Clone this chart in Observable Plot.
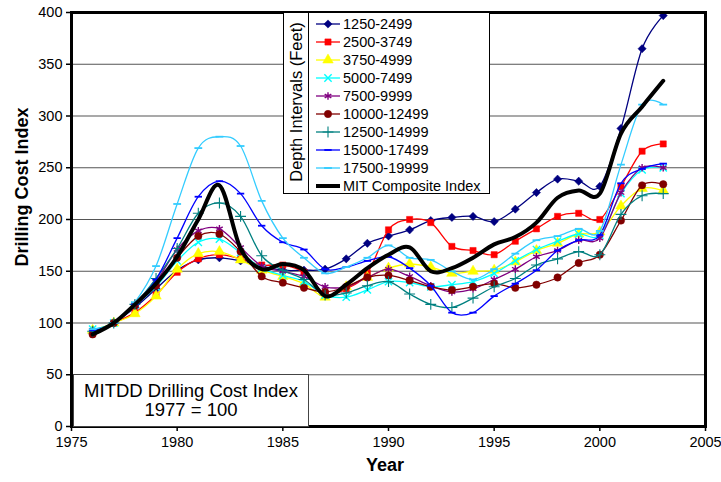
<!DOCTYPE html>
<html><head><meta charset="utf-8">
<script src="https://cdn.jsdelivr.net/npm/d3@7"></script>
<script src="https://cdn.jsdelivr.net/npm/@observablehq/plot@0.6"></script>
<style>
body{margin:0;background:#fff;font-family:"Liberation Sans",Arial,sans-serif;}
#wrap{position:relative;width:721px;height:482px;overflow:hidden;background:#fff;}
#wrap svg{position:absolute;left:0;top:0;}
.lab{position:absolute;color:#000;white-space:nowrap;}
#legend{position:absolute;left:283px;top:12px;width:205px;height:180px;background:#fff;border:1px solid #000;}
#legend .div{position:absolute;left:24px;top:0;width:0;height:100%;border-left:1px solid #000;}
#legend .row{position:absolute;left:0;height:18px;line-height:18px;font-size:14.5px;}
#legend .row svg{position:absolute;left:32px;top:0;}
#legend .row span{position:absolute;left:59px;top:0;}
#legtitle{position:absolute;width:180px;left:-78px;top:79px;height:20px;line-height:20px;text-align:center;font-size:16.5px;transform:rotate(-90deg);transform-origin:center;}
#note{position:absolute;left:73px;top:374px;width:234px;height:51px;background:#fff;border:1px solid #444;text-align:center;font-size:18.5px;line-height:19px;}
</style></head><body><div id="wrap"></div>
<script>
const years = [1976,1977,1978,1979,1980,1981,1982,1983,1984,1985,1986,1987,1988,1989,1990,1991,1992,1993,1994,1995,1996,1997,1998,1999,2000,2001,2002,2003];
const seriesNames = ["1250-2499","2500-3749","3750-4999","5000-7499","7500-9999","10000-12499","12500-14999","15000-17499","17500-19999"];
const d1250  = [90,100,115,133,151,161,163,160,155,151,151,152,162,177,184,190,199,202,203,198,210,226,239,237,232,288,365,397];
const d2500  = [91,100,110,127,149,162,166,162,156,156,149,128,133,148,190,200,197,174,170,166,179,191,203,206,200,232,266,273];
const d3750  = [93,100,109,126,152,167,169,161,151,145,138,125,135,144,153,157,154,148,150,151,159,170,177,186,188,213,230,228];
const d5000  = [94,100,117,135,160,178,181,168,153,146,140,127,125,132,140,139,135,137,140,148,160,171,179,186,185,225,248,250];
const d7500  = [93,100,118,140,171,189,191,173,155,150,145,135,135,144,152,145,136,130,133,142,152,164,170,180,182,226,250,250];
const d10000 = [89,100,117,136,163,184,186,169,145,139,134,130,135,144,146,141,135,132,135,138,134,137,144,158,166,199,233,234];
const d12500 = [92,100,118,143,172,206,216,203,165,151,142,127,129,136,140,128,118,115,124,135,143,156,162,169,166,205,223,225];
const d15000 = [93,100,118,142,182,222,237,225,194,178,171,152,154,160,164,153,136,110,110,126,138,151,170,180,185,235,249,254];
const d17500 = [94,100,120,155,215,269,280,271,218,182,163,148,154,163,175,163,161,150,142,152,167,180,184,191,189,253,311,311];
const composite = [89,100,118,138,164,200,233,172,152,157,151,126,137,153,166,173,150,153,163,176,183,197,221,228,225,283,309,334];
const compositeName = "MIT Composite Index";
const xTicks = [1975,1980,1985,1990,1995,2000,2005];
const yTicks = [0,50,100,150,200,250,300,350,400];
const colors = ["#000080","#ff0000","#ffff00","#00ffff","#800080","#800000","#008080","#0000ff","#33ccff"];

const dash = {draw(ctx, size){const r = Math.sqrt(size/Math.PI)*1.15; ctx.moveTo(-r,0); ctx.lineTo(r,0);}};
const symbols = [d3.symbolDiamond2, d3.symbolSquare, d3.symbolTriangle, d3.symbolTimes, d3.symbolAsterisk, d3.symbolCircle, d3.symbolPlus, dash, dash];
const filled = [true,true,true,false,false,true,false,false,false];
const sizes = [3.7,3.5,3.9,3.4,3.6,3.7,3.6,3.2,3.4];
const strokeW = [0.5,0.5,0.5,1.4,1.4,0.5,1.1,1.8,1.8];

const allValues = [d1250,d2500,d3750,d5000,d7500,d10000,d12500,d15000,d17500];
const tables = allValues.map((vals, k) => years.map((yr, i) => ({year: yr, value: vals[i], series: seriesNames[k]})));
const compTable = years.map((yr, i) => ({year: yr, value: composite[i]}));

const marks = [
  Plot.gridY(yTicks, {stroke: "#555", strokeOpacity: 1, strokeWidth: 1.2}),
];
tables.forEach((t, k) => {
  marks.push(Plot.line(t, {x: "year", y: "value", stroke: colors[k], strokeWidth: 1.3, curve: "cardinal"}));
  marks.push(Plot.dot(t, {x: "year", y: "value", symbol: symbols[k], r: sizes[k],
    fill: filled[k] ? colors[k] : "none", stroke: colors[k], strokeWidth: strokeW[k]}));
});
marks.push(Plot.line(compTable, {x: "year", y: "value", stroke: "#000", strokeWidth: 4, curve: "cardinal"}));
marks.push(Plot.frame({stroke: "#000", strokeWidth: 3}));
marks.push(Plot.axisY(yTicks, {tickSize: 5, tickPadding: 4, fontSize: 14.5, label: null, strokeWidth: 1.5}));
marks.push(Plot.axisX(xTicks, {tickSize: 5, tickPadding: 5, fontSize: 14.5, label: null, tickFormat: d => String(d), strokeWidth: 1.5}));

const chart = Plot.plot({
  width: 721, height: 482,
  marginLeft: 71, marginRight: 16, marginTop: 12, marginBottom: 56,
  x: {domain: [1975, 2005]},
  y: {domain: [0, 400]},
  style: {fontFamily: '"Liberation Sans", Arial, sans-serif', fontSize: "15px", background: "white", color: "black", overflow: "visible"},
  marks
});
const wrap = document.getElementById("wrap");
wrap.appendChild(chart);

// axis titles
const ylab = document.createElement("div");
ylab.className = "lab";
ylab.textContent = "Drilling Cost Index";
Object.assign(ylab.style, {left: "-78px", top: "176px", width: "200px", height: "22px", lineHeight: "22px", textAlign: "center", fontWeight: "bold", fontSize: "18px", transform: "rotate(-90deg)", transformOrigin: "center"});
wrap.appendChild(ylab);
const xlab = document.createElement("div");
xlab.className = "lab";
xlab.textContent = "Year";
Object.assign(xlab.style, {left: "335px", top: "455px", width: "100px", textAlign: "center", fontWeight: "bold", fontSize: "18px"});
wrap.appendChild(xlab);

// note box
const note = document.createElement("div");
note.id = "note";
note.innerHTML = '<div style="margin-top:6px">MITDD Drilling Cost Index</div><div>1977 = 100</div>';
wrap.appendChild(note);

// legend
const legend = document.createElement("div");
legend.id = "legend";
legend.innerHTML = '<div class="div"></div><div id="legtitle">Depth Intervals (Feet)</div>';
const names = seriesNames.concat([compositeName]);
names.forEach((n, i) => {
  const row = document.createElement("div");
  row.className = "row";
  row.style.top = (1.7 + 18 * i) + "px";
  row.style.width = "205px";
  let svg;
  if (i < 9) {
    const path = d3.symbol().type(symbols[i]).size(Math.PI * sizes[i] * sizes[i])();
    svg = `<svg width="24" height="18"><line x1="0" x2="24" y1="9" y2="9" stroke="${colors[i]}" stroke-width="1.3"/><path d="${path}" transform="translate(12,9)" fill="${filled[i] ? colors[i] : 'none'}" stroke="${colors[i]}" stroke-width="${strokeW[i]}"/></svg>`;
  } else {
    svg = `<svg width="24" height="18"><line x1="0" x2="24" y1="9" y2="9" stroke="#000" stroke-width="4"/></svg>`;
  }
  row.innerHTML = svg + `<span>${n}</span>`;
  legend.appendChild(row);
});
wrap.appendChild(legend);
</script>
</body></html>
